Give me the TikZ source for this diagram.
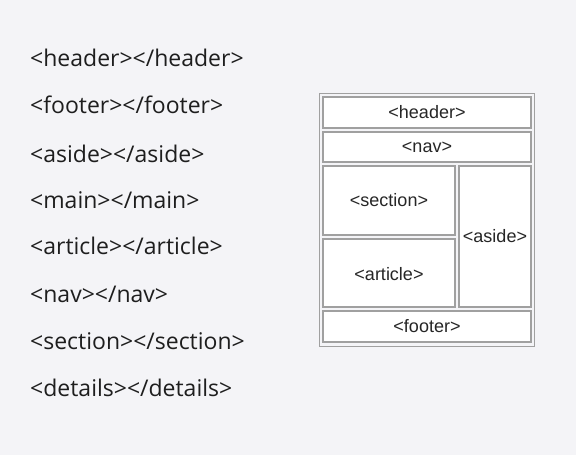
\documentclass[tikz,border=0pt]{standalone}
\usepackage{fontspec}
\setmainfont{Open Sans}
\newfontfamily\boxfont{Liberation Sans}
\definecolor{bg}{RGB}{244,244,247}
\definecolor{txt}{RGB}{30,30,30}
\definecolor{bline}{RGB}{160,160,160}
\begin{document}
\begin{tikzpicture}[x=1pt,y=-1pt,
  tag/.style={anchor=west,inner sep=0pt,text=txt,font=\fontsize{23}{27}\selectfont},
  cell/.style={draw=bline,line width=1.3pt,fill=white},
  celltext/.style={text=black!85,font=\boxfont\fontsize{18}{21}\selectfont,inner sep=0pt}]
\useasboundingbox[fill=bg] (0,0) rectangle (576,455);
\foreach \t/\y [count=\i] in {header/58,footer/105,aside/154,main/200,article/246,nav/294,section/341,details/388}
  \node[tag] (l\i) at (30,\y) {<\t></\t>};
\draw[draw=bline,line width=1.3pt,fill=bg] (319.5,93.5) rectangle (534.5,346.5);
\draw[cell] (323,97) rectangle (531,128) node[midway,celltext] (h) {<header>};
\draw[cell] (323,132) rectangle (531,162) node[midway,celltext] (n) {<nav>};
\draw[cell] (323,166) rectangle (455,235) node[midway,celltext] (s) {<section>};
\draw[cell] (323,239) rectangle (455,307) node[midway,celltext,yshift=-1pt] (a) {<article>};
\draw[cell] (459,166) rectangle (531,307) node[midway,celltext] (as) {<aside>};
\draw[cell] (323,311) rectangle (531,342) node[midway,celltext] (f) {<footer>};
\end{tikzpicture}
\end{document}
